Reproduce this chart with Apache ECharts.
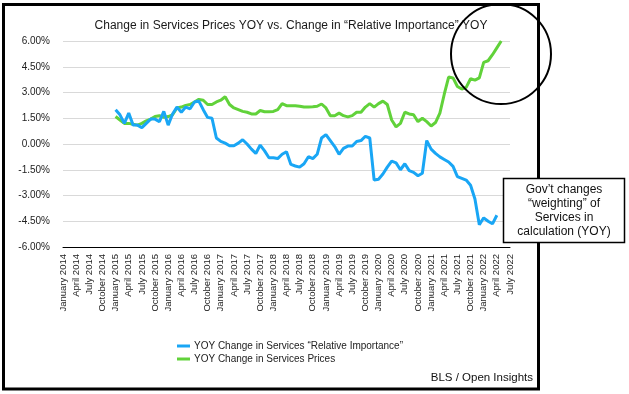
<!DOCTYPE html>
<html>
<head>
<meta charset="utf-8">
<script src="https://cdn.jsdelivr.net/npm/echarts@6/dist/echarts.min.js"></script>
<style>html,body{margin:0;padding:0;background:#fff}#c{width:629px;height:394px}</style>
</head>
<body>
<div id="c"></div>
<script>
var monthNames = ['January','February','March','April','May','June','July','August','September','October','November','December'];
var years = [2014,2015,2016,2017,2018,2019,2020,2021,2022];
var lastMonthIndex2022 = 6; // July 2022
var categories = [];
years.forEach(function (y) {
  monthNames.forEach(function (m, mi) {
    if (y === 2022 && mi > lastMonthIndex2022) return;
    categories.push(m + ' ' + y);
  });
});

var seriesNames = ['YOY Change in Services \u201cRelative Importance\u201d', 'YOY Change in Services Prices'];

// Jan 2014 .. Jul 2022, monthly (%)
var relImportance = [
  null,null,null,null,null,null,null,null,null,null,null,null,
  2.0, 1.7, 1.2, 1.8, 1.1, 1.1, 0.95, 1.2, 1.45, 1.45, 1.3, 1.9,
  1.1, 1.75, 2.15, 1.85, 2.15, 2.05, 2.45, 2.5, 2.0, 1.55, 1.5, 0.35,
  0.15, 0.05, -0.1, -0.1, 0.05, 0.25, 0.0, -0.3, -0.55, -0.06, -0.4, -0.8,
  -0.8, -0.85, -0.6, -0.45, -1.19, -1.28, -1.35, -1.15, -0.74, -0.85, -0.6, 0.35,
  0.55, 0.2, -0.15, -0.6, -0.25, -0.12, -0.12, 0.15, 0.2, 0.45, 0.35, -2.1,
  -2.05, -1.75, -1.35, -1.0, -1.1, -1.5, -1.15, -1.55, -1.65, -1.85, -1.7, 0.2,
  -0.3, -0.55, -0.75, -0.9, -1.05, -1.3, -1.9, -2.0, -2.1, -2.4, -3.2, -4.7,
  -4.3, -4.5, -4.65, -4.15, null, null, null
];
var servicesPrices = [
  null,null,null,null,null,null,null,null,null,null,null,null,
  1.6, 1.4, 1.2, 1.2, 1.15, 1.1, 1.2, 1.35, 1.45, 1.6, 1.65, 1.55,
  1.6, 1.7, 2.1, 2.15, 2.25, 2.3, 2.45, 2.6, 2.55, 2.3, 2.3, 2.45,
  2.55, 2.75, 2.3, 2.1, 2.0, 1.9, 1.85, 1.75, 1.75, 1.95, 1.88, 1.88,
  1.9, 2.0, 2.35, 2.23, 2.23, 2.23, 2.2, 2.15, 2.15, 2.17, 2.2, 2.33,
  2.1, 1.65, 1.65, 1.8, 1.65, 1.58, 1.65, 1.85, 1.85, 2.15, 2.35, 2.15,
  2.35, 2.5, 2.3, 1.4, 1.0, 1.2, 1.85, 1.75, 1.7, 1.3, 1.5, 1.3,
  1.05, 1.25, 1.8, 2.9, 3.9, 3.85, 3.35, 3.2, 3.3, 3.8, 3.72, 3.85,
  4.75, 4.85, 5.2, 5.6, 6.0, null, null
];

var yMin = -6, yMax = 6, yStep = 1.5;
var FONT = '"Liberation Sans", Arial, Helvetica, sans-serif';
var BLUE = '#19a6f5', GREEN = '#61d23a';

var chart = echarts.init(document.getElementById('c'), null, {renderer: 'canvas'});
chart.setOption({
  backgroundColor: '#fff',
  animation: false,
  title: {
    text: 'Change in Services Prices YOY vs. Change in \u201cRelative Importance\u201d YOY',
    left: 286, top: 15, textAlign: 'center',
    textStyle: {fontFamily: FONT, fontSize: 12, fontWeight: 'normal', color: '#1a1a1a'}
  },
  legend: {
    orient: 'vertical', left: 172, top: 335,
    itemWidth: 13, itemHeight: 3, itemGap: 1,
    icon: 'rect',
    data: [seriesNames[0], seriesNames[1]],
    textStyle: {fontFamily: FONT, fontSize: 10, color: '#222', lineHeight: 12, padding: [0,0,0,-1]}
  },
  grid: {left: 63, right: 119, top: 41, bottom: 147, containLabel: false},
  xAxis: {
    type: 'category', data: categories, boundaryGap: false,
    axisLine: {onZero: false, lineStyle: {color: '#000', width: 1}},
    axisTick: {show: false},
    splitLine: {show: false},
    axisLabel: {rotate: 90, interval: 2, fontFamily: FONT, fontSize: 9.5, color: '#222', margin: 7}
  },
  yAxis: {
    type: 'value', min: yMin, max: yMax, interval: yStep,
    axisLine: {show: false}, axisTick: {show: false},
    splitLine: {lineStyle: {color: '#d9d9d9', width: 1}},
    axisLabel: {fontFamily: FONT, fontSize: 10, color: '#222', margin: 13,
      formatter: function (v) { return v.toFixed(2) + '%'; }}
  },
  series: [
    {name: seriesNames[1], type: 'line', data: servicesPrices, showSymbol: false, symbol: 'none',
     lineStyle: {color: GREEN, width: 3}, itemStyle: {color: GREEN}, z: 2, connectNulls: false},
    {name: seriesNames[0], type: 'line', data: relImportance, showSymbol: false, symbol: 'none',
     lineStyle: {color: BLUE, width: 3}, itemStyle: {color: BLUE}, z: 3, connectNulls: false}
  ],
  graphic: [
    {type: 'rect', z: 100, silent: true,
     shape: {x: 3.5, y: 4.5, width: 535, height: 384.5},
     style: {fill: 'none', stroke: '#000', lineWidth: 3}},
    {type: 'circle', z: 101, silent: true,
     shape: {cx: 501, cy: 54, r: 50},
     style: {fill: 'none', stroke: '#000', lineWidth: 2}},
    {type: 'rect', z: 102, silent: true,
     shape: {x: 503.5, y: 178.5, width: 121, height: 64},
     style: {fill: '#fff', stroke: '#000', lineWidth: 1.5}},
    {type: 'text', z: 103, silent: true, x: 564, y: 211,
     style: {text: 'Gov\u2019t changes\n\u201cweighting\u201d of\nServices in\ncalculation (YOY)',
       font: '12px ' + FONT, fill: '#111', align: 'center', verticalAlign: 'middle', lineHeight: 14}},
    {type: 'text', z: 103, silent: true, x: 533, y: 378,
     style: {text: 'BLS / Open Insights', font: '11.5px ' + FONT, fill: '#111', align: 'right', verticalAlign: 'middle'}}
  ]
});
</script>
</body>
</html>
